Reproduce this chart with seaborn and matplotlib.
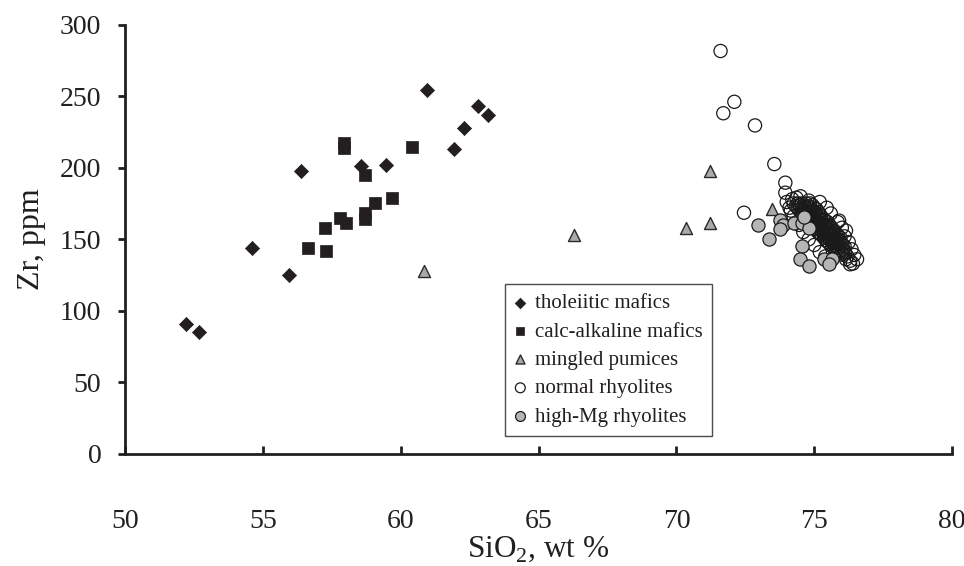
import matplotlib
matplotlib.use("Agg")
import matplotlib.pyplot as plt
import seaborn as sns
import pandas as pd

# SiO2 (wt %) and Zr (ppm) for each rock group
tholeiitic_sio2 = [52.2, 52.7, 54.6, 55.95, 56.4, 58.55, 59.45, 60.95, 61.95, 62.3, 62.8, 63.15]
tholeiitic_zr = [91, 85, 144, 125, 198, 201, 202, 254, 213, 228, 243, 236.5]

calc_alk_sio2 = [56.65, 57.3, 57.25, 57.8, 58.0, 57.95, 57.95, 58.7, 58.7, 58.7, 59.05, 59.7, 60.4]
calc_alk_zr = [144, 142, 158, 165, 161, 217, 214, 168, 164, 195, 175.5, 178.5, 214.5]

pumice_sio2 = [60.85, 66.3, 70.35, 71.2, 71.2, 73.45]
pumice_zr = [128, 153, 158, 161, 197.5, 171]

normal_sio2 = [71.6, 72.1, 71.7, 72.85, 73.55, 72.45, 73.95, 73.95,
               74.2, 74.35, 74.0, 74.15, 74.5, 74.8, 76.15, 75.9,
               74.25, 74.4, 74.55, 74.7, 74.85,
               74.4, 74.55, 74.7, 74.85, 75.0,
               74.55, 74.7, 74.85, 75.0, 75.15,
               74.65, 74.8, 74.95, 75.1, 75.25,
               74.8, 74.95, 75.1, 75.25, 75.4,
               74.95, 75.1, 75.25, 75.4, 75.55,
               75.05, 75.2, 75.35, 75.5, 75.65,
               75.2, 75.35, 75.5, 75.65, 75.8,
               75.35, 75.5, 75.65, 75.8, 75.95,
               75.5, 75.65, 75.8, 75.95,
               75.65, 75.8, 75.95, 76.1,
               75.8, 75.95, 76.1,
               76.05, 76.2, 76.15, 76.3, 76.4, 76.3,
               74.33, 74.47, 74.64, 74.78, 74.93,
               74.46, 74.62, 74.77, 74.93, 75.08,
               74.6, 74.74, 74.9, 75.04, 75.2,
               74.73, 74.88, 75.03, 75.18, 75.33,
               74.86, 75.02, 75.17, 75.33, 75.48,
               74.98, 75.13, 75.28, 75.44, 75.6,
               75.12, 75.27, 75.43, 75.58, 75.73,
               75.26, 75.42, 75.57, 75.72, 75.87,
               75.42, 75.57, 75.72, 75.88,
               75.56, 75.72, 75.87, 76.02,
               75.72, 75.87, 76.03,
               75.86, 76.0, 76.12,
               74.1, 74.25, 74.45, 74.6, 74.8, 75.0, 75.2, 75.4,
               75.2, 75.45, 75.6, 75.85, 76.0, 76.1, 76.25, 76.35, 76.45, 76.55]
normal_zr = [281.5, 246, 238, 229.5, 202.5, 168.5, 189.5, 182.5,
             178, 179, 176, 170, 180, 177, 156, 163,
             175, 175, 175, 175, 175,
             172, 172, 172, 172, 172,
             169, 169, 169, 169, 169,
             166, 166, 166, 166, 166,
             163, 163, 163, 163, 163,
             160, 160, 160, 160, 160,
             157, 157, 157, 157, 157,
             154, 154, 154, 154, 154,
             151, 151, 151, 151, 151,
             148, 148, 148, 148,
             145, 145, 145, 145,
             142, 142, 142,
             139, 138, 136, 135, 133, 132.5,
             173.2, 174.0, 173.6, 172.9, 173.8,
             170.1, 171.0, 170.6, 169.8, 170.9,
             167.3, 168.1, 166.9, 167.8, 167.2,
             164.8, 163.9, 164.6, 165.2, 164.1,
             161.2, 162.0, 161.7, 160.9, 161.9,
             158.7, 157.9, 158.9, 158.2, 158.6,
             155.2, 156.0, 155.6, 154.9, 155.8,
             152.9, 152.1, 152.7, 153.0, 152.2,
             149.3, 150.0, 149.1, 149.8,
             146.8, 146.1, 147.0, 146.4,
             143.2, 143.9, 143.4,
             140.8, 140.2, 140.9,
             172, 166, 160, 155, 150, 146, 141, 138,
             176, 172, 168, 162, 158, 152, 148, 143, 139, 136]

high_mg_sio2 = [72.95, 73.35, 73.75, 73.85, 73.77, 74.27, 74.57, 74.8, 74.63,
                74.54, 74.49, 74.79, 75.36, 75.66, 75.54]
high_mg_zr = [160, 150.5, 163.5, 160, 157, 161, 161, 157.5, 165.5,
              145, 136.5, 131, 136, 136, 133]

group_labels = ["tholeiitic mafics", "calc-alkaline mafics", "mingled pumices",
                "normal rhyolites", "high-Mg rhyolites"]

x_ticks = [50, 55, 60, 65, 70, 75, 80]
y_ticks = [0, 50, 100, 150, 200, 250, 300]

sns.set_style("ticks")
ink = "#231f20"
plt.rcParams["font.family"] = ["Liberation Serif", "DejaVu Serif"]
plt.rcParams["mathtext.fontset"] = "custom"
plt.rcParams["mathtext.rm"] = "Liberation Serif"
plt.rcParams["text.color"] = ink

fig = plt.figure(figsize=(9.64, 5.66), dpi=100)
ax = fig.add_axes([0.1297, 0.198, 0.858, 0.7587])

groups = [
    (tholeiitic_sio2, tholeiitic_zr, dict(marker="D", s=52, color=ink, edgecolor=ink, linewidth=0.5)),
    (calc_alk_sio2, calc_alk_zr, dict(marker="s", s=64, color=ink, edgecolor=ink, linewidth=0.5)),
    (pumice_sio2, pumice_zr, dict(marker="^", s=75, color="#a9a9a9", edgecolor="#2a2a2a", linewidth=1.0)),
    (normal_sio2, normal_zr, dict(marker="o", s=90, color="#1a1a1a", facecolor="none",
                                  edgecolor="#1a1a1a", linewidth=0.9)),
    (high_mg_sio2, high_mg_zr, dict(marker="o", s=90, color="#b5b5b5", edgecolor="#1a1a1a", linewidth=0.9)),
]

for (xs, ys, style), label in zip(groups, group_labels):
    df = pd.DataFrame({"SiO2": xs, "Zr": ys})
    sns.scatterplot(data=df, x="SiO2", y="Zr", ax=ax, label=label, zorder=3, **style)

ax.set_xlim(50, 80)
ax.set_ylim(0, 300)
ax.set_xticks(x_ticks)
ax.set_yticks(y_ticks)
ax.set_xticklabels([str(v) for v in x_ticks])
ax.set_yticklabels([str(v) for v in y_ticks])

for side in ("top", "right"):
    ax.spines[side].set_visible(False)
for side in ("left", "bottom"):
    ax.spines[side].set_linewidth(2.0)
    ax.spines[side].set_color(ink)

ax.tick_params(axis="x", direction="in", length=5.5, width=2.0, color=ink,
               labelsize=20, pad=40, labelcolor=ink)
ax.tick_params(axis="y", direction="out", length=5, width=2.0, color=ink,
               labelsize=20, pad=12, labelcolor=ink)

ax.set_xlabel(r"SiO$_\mathregular{2}$, wt %", fontsize=22.5, labelpad=0, color=ink)
ax.set_ylabel("Zr, ppm", fontsize=23, labelpad=10, color=ink)

leg = ax.legend(loc="upper left", bbox_to_anchor=(0.459, 0.395), borderaxespad=0,
                frameon=True, fancybox=False, fontsize=15, markerscale=0.75,
                handlelength=0.6, handletextpad=0.4, labelspacing=0.42,
                borderpad=0.45, edgecolor=ink)
leg.get_frame().set_linewidth(1.0)
leg.set_zorder(5)

fig.savefig("out.png", dpi=100)
